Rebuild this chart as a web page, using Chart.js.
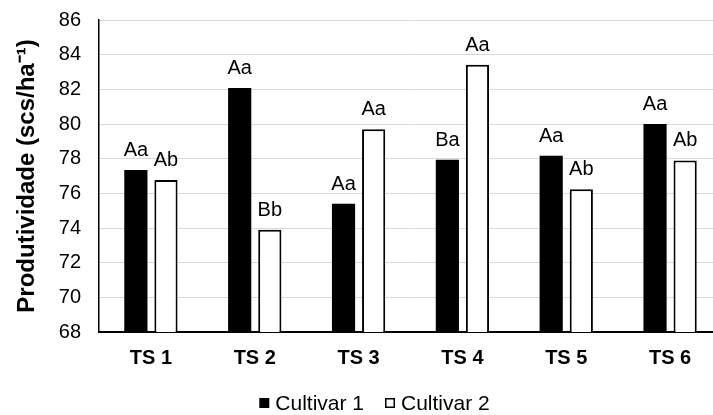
<!DOCTYPE html>
<html>
<head>
<meta charset="utf-8">
<script src="https://cdn.jsdelivr.net/npm/chart.js@4"></script>
<style>
  html, body { margin: 0; padding: 0; background: #fff; overflow: hidden; }
  #wrap { width: 730px; height: 415px; }
</style>
</head>
<body>
<div id="wrap"><canvas id="prodChart" width="730" height="415"></canvas></div>
<script>
// ====== DADOS ======
const categorias = ["TS 1", "TS 2", "TS 3", "TS 4", "TS 5", "TS 6"];
const cultivar1 = [77.35, 82.08, 75.4, 77.94, 78.17, 80.0];
const cultivar2 = [76.77, 73.9, 79.7, 83.42, 76.23, 77.9];
const letras1 = ["Aa", "Aa", "Aa", "Ba", "Aa", "Aa"];
const letras2 = ["Ab", "Bb", "Aa", "Aa", "Ab", "Ab"];
const serieNomes = ["Cultivar 1", "Cultivar 2"];
const yMin = 68, yMax = 86, yStep = 2;

const FONT = "'Liberation Sans', Arial, sans-serif";

// ====== RÓTULOS DE LETRAS SOBRE AS BARRAS ======
const letrasPlugin = {
    id: "letras",
    afterDatasetsDraw(chart) {
        const ctx = chart.ctx;
        const grupos = [letras1, letras2];
        ctx.save();
        ctx.font = "20px " + FONT;
        ctx.fillStyle = "#000";
        ctx.textAlign = "center";
        ctx.textBaseline = "alphabetic";
        chart.data.datasets.forEach((ds, i) => {
            chart.getDatasetMeta(i).data.forEach((bar, j) => {
                ctx.fillText(grupos[i][j], bar.x, bar.y - 14);
            });
        });
        ctx.restore();
    }
};

// ====== LEGENDA ======
const legendaPlugin = {
    id: "legenda",
    afterDraw(chart) {
        const ctx = chart.ctx;
        const centroX = 374.5, y = 403, box = 10, gapTxt = 6, gapItem = 21;
        ctx.save();
        ctx.font = "21px " + FONT;
        const larguras = serieNomes.map(n => ctx.measureText(n).width);
        const total = larguras.reduce((a, w) => a + box + gapTxt + w, 0) + gapItem * (serieNomes.length - 1);
        let x = centroX - total / 2;
        ctx.textBaseline = "middle";
        ctx.textAlign = "left";
        serieNomes.forEach((nome, i) => {
            if (i === 0) {
                ctx.fillStyle = "#000";
                ctx.fillRect(x, y - box / 2, box, box);
            } else {
                ctx.fillStyle = "#fff";
                ctx.fillRect(x, y - box / 2, box, box);
                ctx.strokeStyle = "#000";
                ctx.lineWidth = 1.5;
                ctx.strokeRect(x + 0.75, y - box / 2 + 0.75, box - 1.5, box - 1.5);
            }
            ctx.fillStyle = "#000";
            ctx.fillText(nome, x + box + gapTxt, y + 1);
            x += box + gapTxt + larguras[i] + gapItem;
        });
        ctx.restore();
    }
};

// ====== GRÁFICO ======
new Chart(document.getElementById("prodChart"), {
    type: "bar",
    data: {
        labels: categorias,
        datasets: [{
            label: serieNomes[0],
            data: cultivar1,
            backgroundColor: "#000",
            borderColor: "#000",
            borderWidth: 0,
            categoryPercentage: 0.58,
            barPercentage: 0.77
        }, {
            label: serieNomes[1],
            data: cultivar2,
            backgroundColor: "#fff",
            borderColor: "#000",
            borderWidth: 2,
            categoryPercentage: 0.58,
            barPercentage: 0.77
        }]
    },
    options: {
        responsive: false,
        animation: false,
        layout: { padding: { top: 20, right: 8, bottom: 39, left: 0 } },
        plugins: {
            legend: { display: false },
            tooltip: { enabled: false }
        },
        scales: {
            x: {
                grid: { display: false },
                border: { color: "#000", width: 2 },
                ticks: {
                    color: "#000",
                    padding: 6,
                    maxRotation: 0,
                    font: { family: FONT, size: 20, weight: "bold" }
                }
            },
            y: {
                min: yMin,
                max: yMax,
                afterFit(scale) {
                    scale.width = 99;
                    scale.paddingTop = 0;
                    scale.paddingBottom = 0;
                },
                grid: { color: "#d9d9d9", lineWidth: 1, drawTicks: false },
                border: { color: "#000", width: 1.5 },
                ticks: {
                    stepSize: yStep,
                    color: "#000",
                    padding: 18,
                    font: { family: FONT, size: 20 }
                },
                title: {
                    display: true,
                    text: "Produtividade (scs/ha⁻¹)",
                    color: "#000",
                    padding: { top: 13, bottom: 0 },
                    font: { family: FONT, size: 24, weight: "bold" }
                }
            }
        }
    },
    plugins: [letrasPlugin, legendaPlugin]
});
</script>
</body>
</html>
